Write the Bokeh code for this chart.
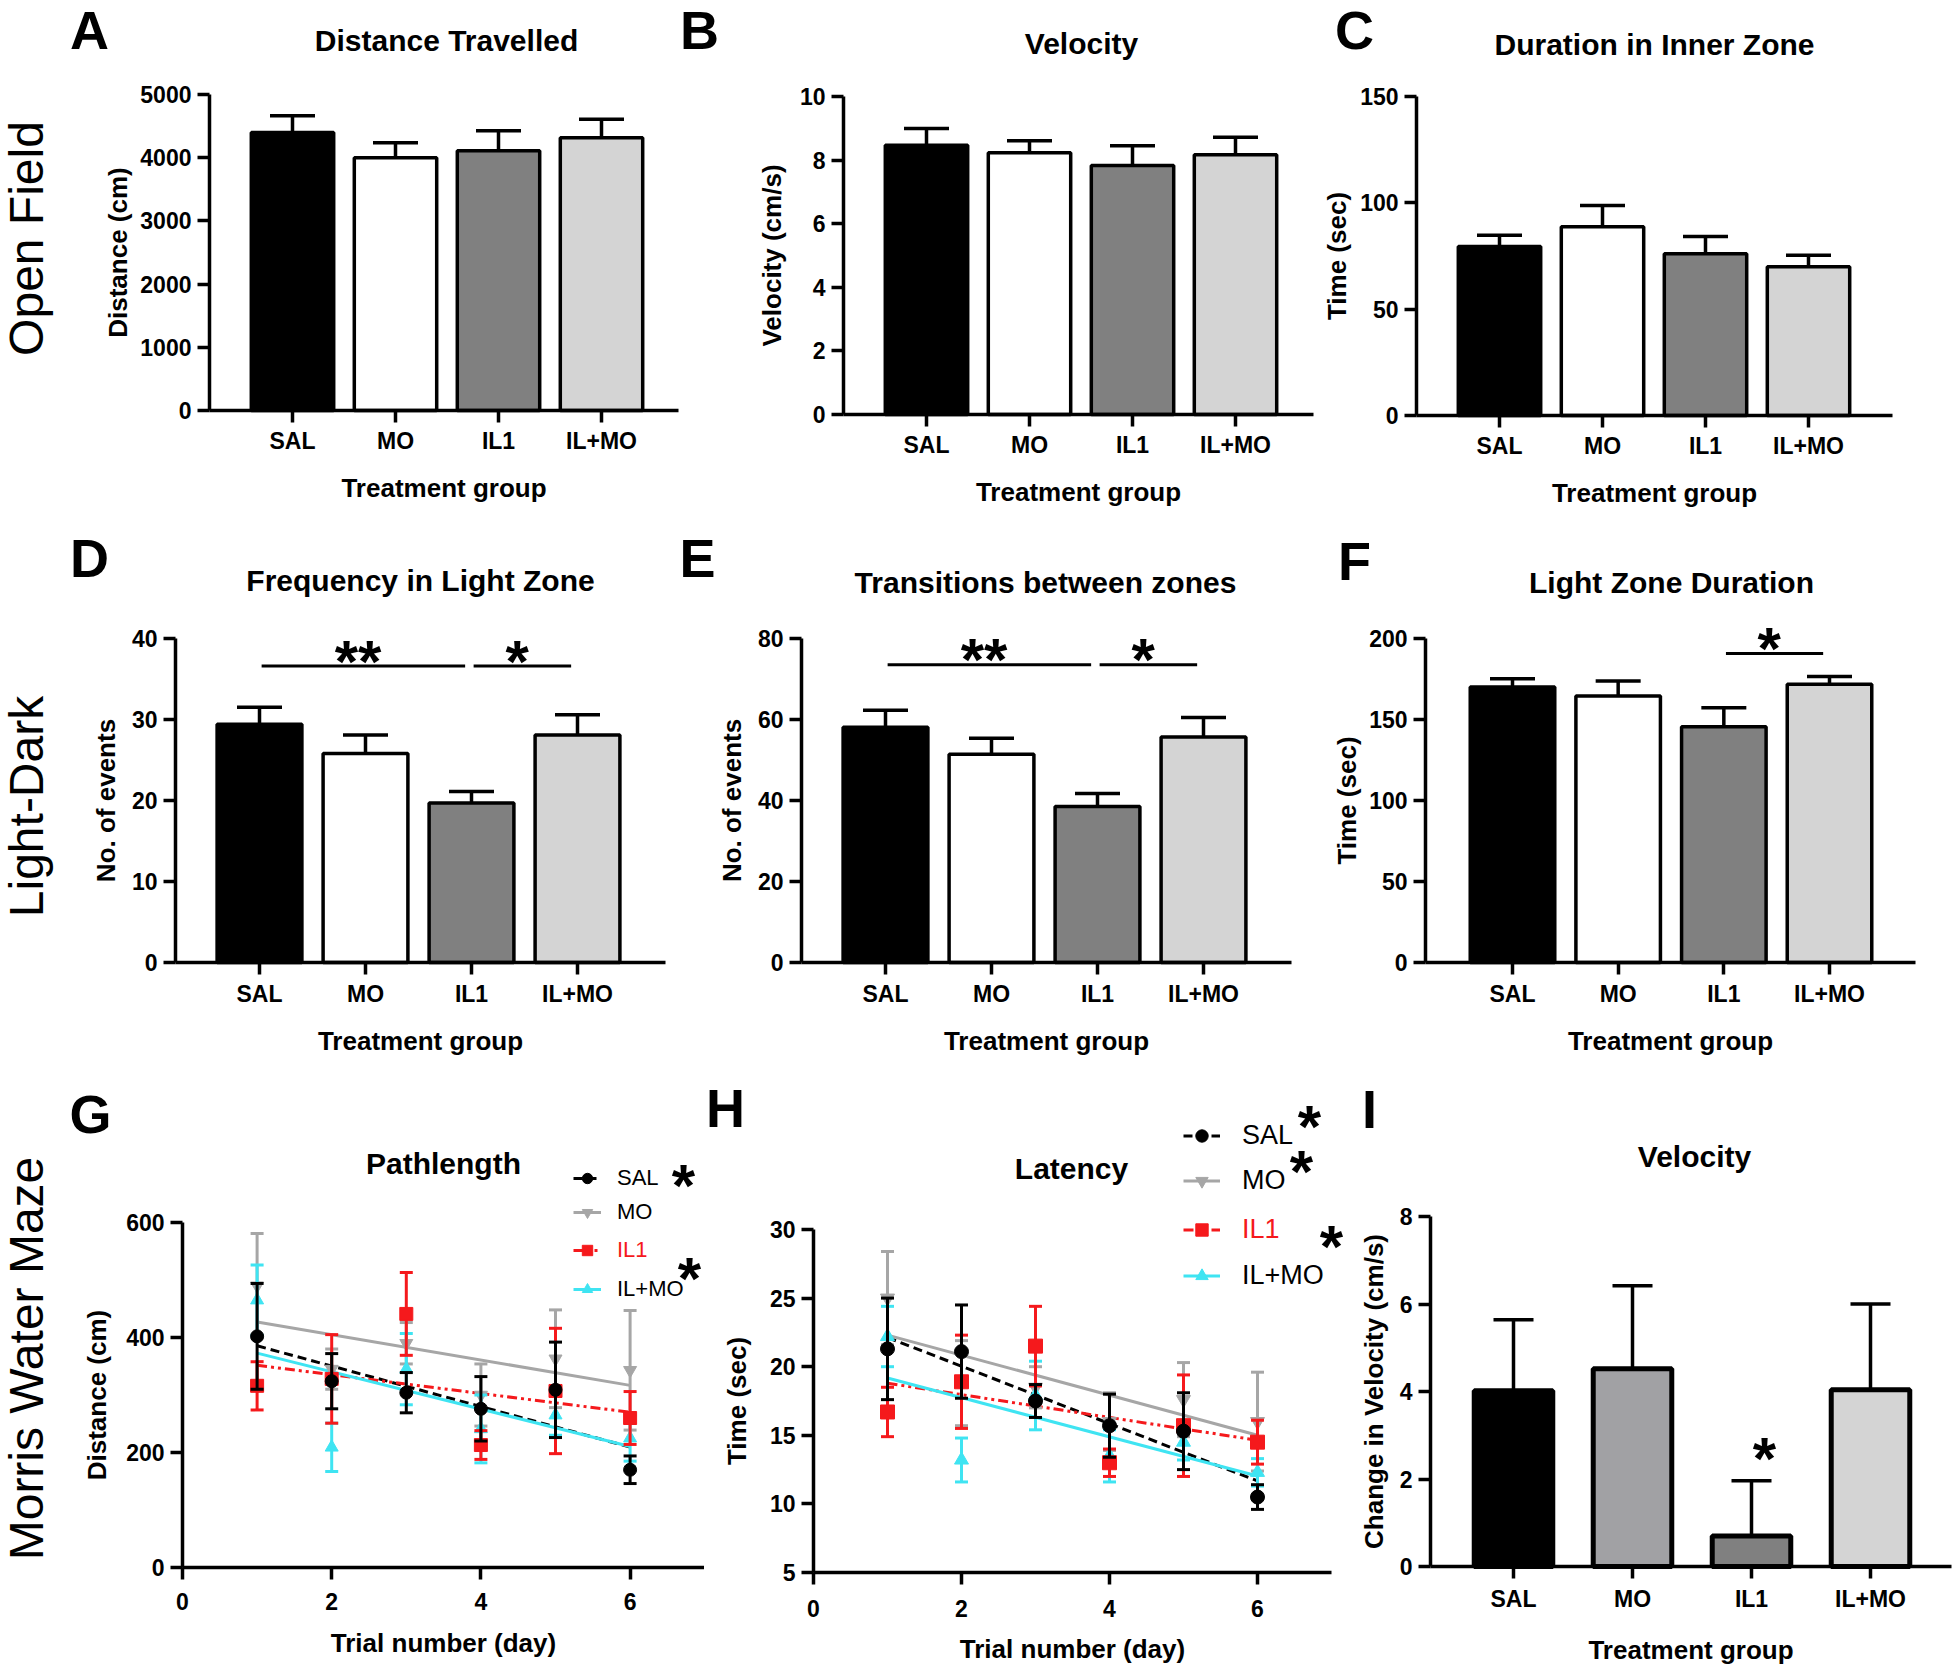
import numpy as np
from bokeh.plotting import figure
from bokeh.models import (ColumnDataSource, FixedTicker, Label, Legend, LegendItem, Range1d,
                          LinearAxis)
from bokeh.layouts import row, column
from bokeh.embed import file_html
from bokeh.resources import INLINE
from bokeh.core.properties import value

FONT = "Liberation Sans"

# ---------------- data ----------------
groups = ["SAL", "MO", "IL1", "IL+MO"]
bar_colors = ["#000000", "#ffffff", "#808080", "#d4d4d4"]
vchange_colors = ["#000000", "#a1a1a4", "#808080", "#d4d4d4"]

distance_mean = [4400, 4000, 4110, 4315]
distance_sem = [265, 235, 315, 295]
velocity_mean = [8.47, 8.23, 7.83, 8.17]
velocity_sem = [0.52, 0.38, 0.62, 0.55]
inner_mean = [79.5, 88.8, 76.0, 70.0]
inner_sem = [5.3, 10.0, 8.2, 5.3]
freq_mean = [29.4, 25.8, 19.7, 28.1]
freq_sem = [2.1, 2.3, 1.4, 2.5]
trans_mean = [58.1, 51.4, 38.5, 55.7]
trans_sem = [4.2, 4.0, 3.2, 4.8]
light_mean = [170.0, 164.5, 145.5, 171.8]
light_sem = [5.2, 9.2, 11.8, 4.8]
vchange_mean = [4.02, 4.52, 0.70, 4.04]
vchange_sem = [1.62, 1.90, 1.26, 1.96]

freq_brackets = [(0, 2, "**"), (2, 3, "*")]
freq_bracket_y = 36.6
trans_brackets = [(0, 2, "**"), (2, 3, "*")]
trans_bracket_y = 73.5
light_brackets = [(2, 3, "*")]
light_bracket_y = 190.8
vchange_sig = ["", "", "*", ""]

days = [1, 2, 3, 4, 5, 6]
path_sal = [402, 324, 304, 276, 309, 170]
path_sal_sem = [92, 48, 35, 56, 83, 24]
path_mo = [490, 345, 390, 300, 363, 343]
path_mo_sem = [91, 35, 36, 54, 85, 104]
path_il1 = [316, 328, 441, 213, 307, 260]
path_il1_sem = [42, 77, 72, 25, 109, 46]
path_ilmo = [465, 209, 345, 241, 265, 225]
path_ilmo_sem = [61, 42, 62, 59, 35, 40]

lat_sal = [21.3, 21.1, 17.5, 15.7, 15.3, 10.5]
lat_sal_sem = [3.7, 3.4, 1.2, 2.3, 2.8, 0.9]
lat_mo = [25.0, 18.8, 18.5, 16.0, 17.6, 16.0]
lat_mo_sem = [3.4, 3.1, 1.5, 2.1, 2.7, 3.6]
lat_il1 = [16.7, 18.9, 21.5, 13.0, 15.7, 14.5]
lat_il1_sem = [1.8, 3.4, 2.9, 1.0, 3.7, 1.6]
lat_ilmo = [22.2, 13.2, 17.9, 13.5, 14.5, 12.3]
lat_ilmo_sem = [2.2, 1.6, 2.5, 1.9, 1.3, 1.0]

# ---------------- layout (page pixel coords) ----------------
FIG = dict(
    A=(0, 0, 679, 518), B=(679, 0, 635, 518), C=(1314, 0, 644, 518),
    D=(0, 518, 672, 557), E=(672, 518, 650, 557), F=(1322, 518, 636, 557),
    G=(0, 1075, 704, 589), H=(704, 1075, 641, 589), I=(1345, 1075, 613, 589),
)
STAR_SIZE = 60
STAR_DROP = 8   # anchor lies this many px below the visual centre of "*"
TEXT_DROP = -2  # anchor offset for capital-letter texts relative to their visual centre


class Panel:
    def __init__(self, key, xa, ya):
        self.key = key
        fx, fy, w, h = FIG[key]
        self.fx, self.fy, self.w, self.h = fx, fy, w, h
        (v0, p0), (v1, p1) = xa
        self.sx = (v1 - v0) / (p1 - p0)
        self.v0, self.p0 = v0, p0
        (u0, q0), (u1, q1) = ya
        self.sy = (u1 - u0) / (q1 - q0)
        self.u0, self.q0 = u0, q0
        xr = (self.xd(fx), self.xd(fx + w))
        yr = (self.yd(fy + h), self.yd(fy))
        p = figure(width=w, height=h, x_range=Range1d(*xr), y_range=Range1d(*yr),
                   x_axis_location=None, y_axis_location=None,
                   output_backend="svg", toolbar_location=None, tools="")
        p.min_border_left = p.min_border_right = p.min_border_top = p.min_border_bottom = 0
        p.outline_line_color = None
        p.background_fill_color = "white"
        p.border_fill_color = "white"
        p.grid.visible = False
        self.p = p

    def xd(self, X):
        return self.v0 + (X - self.p0) * self.sx

    def yd(self, Y):
        return self.u0 + (Y - self.q0) * self.sy

    def label(self, text, X, Y, size, bold=True, angle=0.0, color="black"):
        """X, Y: text anchor in page pixels."""
        self.p.add_layout(Label(x=X - self.fx, y=self.fy + self.h - Y, x_units="screen",
                                y_units="screen", text=text, text_font=FONT,
                                text_font_size=f"{size}px",
                                text_font_style="bold" if bold else "normal",
                                text_color=color, text_align="center",
                                text_baseline="alphabetic", angle=angle))

    def cap_label(self, text, cx, cy, size, bold=True, color="black"):
        self.label(text, cx, cy + TEXT_DROP, size, bold=bold, color=color)

    def star(self, cx, cy):
        self.label("*", cx, cy + STAR_DROP, STAR_SIZE)

    def axes(self, xloc, xb, xticks, xover, yloc, yb, yticks, xlabel, ylabel,
             x_std, x_lab_std, y_lab_std):
        yax = LinearAxis(fixed_location=xloc, bounds=yb, ticker=FixedTicker(ticks=yticks),
                         axis_label=ylabel)
        xax = LinearAxis(fixed_location=yloc, bounds=xb, ticker=FixedTicker(ticks=xticks),
                         axis_label=xlabel)
        if xover:
            xax.major_label_overrides = xover
        for ax in (xax, yax):
            ax.axis_line_width = 3.5
            ax.axis_line_color = "black"
            ax.major_tick_line_width = 3.5
            ax.major_tick_line_color = "black"
            ax.major_tick_out = 12
            ax.major_tick_in = 0
            ax.minor_tick_line_color = None
            ax.major_label_text_font = FONT
            ax.major_label_text_font_style = "bold"
            ax.major_label_text_font_size = "23px"
            ax.major_label_text_color = "black"
            ax.axis_label_text_font = FONT
            ax.axis_label_text_font_style = "bold"
            ax.axis_label_text_font_size = "26px"
            ax.axis_label_text_color = "black"
        xax.major_label_standoff = x_std
        xax.axis_label_standoff = x_lab_std
        yax.major_label_standoff = 6
        yax.axis_label_standoff = y_lab_std
        self.p.add_layout(yax, "left")
        self.p.add_layout(xax, "below")


xpos = [i + 1 for i in range(len(groups))]
xover = {i + 1: g for i, g in enumerate(groups)}


def bar_panel(key, xa, ya, L, R, ymax, yticks, means, sems, colors, ylabel, title, title_xy,
              letter_xy, x_std, x_lab_std, y_lab_std, bar_w=0.8, line_w=3.5, cap=45,
              brackets=None, bracket_y=None, sig=None):
    pn = Panel(key, xa, ya)
    p = pn.p
    upper = [m + s for m, s in zip(means, sems)]
    src = ColumnDataSource(dict(x=xpos, top=means, upper=upper, color=colors))
    p.segment(x0="x", y0="top", x1="x", y1="upper", source=src, line_color="black", line_width=3.5)
    p.scatter(x="x", y="upper", source=src, marker="dash", size=cap, line_color="black",
              line_width=3.5)
    p.vbar(x="x", top="top", width=bar_w, bottom=0, source=src, fill_color="color",
           line_color="black", line_width=line_w)
    if brackets:
        bx0 = [xpos[i] + 0.02 for i, j, t in brackets]
        bx1 = [xpos[j] - 0.06 for i, j, t in brackets]
        by = [bracket_y] * len(brackets)
        p.segment(x0=bx0, y0=by, x1=bx1, y1=by, line_color="black", line_width=3)
        p.text(x=[(a + b) / 2 - 0.05 for a, b in zip(bx0, bx1)], y=by,
               text=[t for i, j, t in brackets], text_font=value(FONT), text_font_style="bold",
               text_font_size=f"{STAR_SIZE}px", text_align="center", text_baseline="alphabetic",
               y_offset=STAR_DROP - 13, text_color="black")
    if sig:
        sx = [x for x, s in zip(xpos, sig) if s]
        sy = [u for u, s in zip(upper, sig) if s]
        p.text(x=sx, y=sy, text=[s for s in sig if s], text_font=value(FONT),
               text_font_style="bold", text_font_size=f"{STAR_SIZE}px", text_align="center",
               text_baseline="alphabetic", x_offset=13, y_offset=STAR_DROP - 30,
               text_color="black")
    pn.axes(pn.xd(L), (pn.xd(L), pn.xd(R)), xpos, xover, 0, (0, ymax), yticks,
            "Treatment group", ylabel, x_std, x_lab_std, y_lab_std)
    pn.cap_label(title, title_xy[0], title_xy[1], 30)
    pn.cap_label(key, letter_xy[0], letter_xy[1], 54)
    return pn


pA = bar_panel("A", ((1, 292), (4, 601)), ((0, 410), (5000, 94)), 209, 678, 5000,
               [0, 1000, 2000, 3000, 4000, 5000], distance_mean, distance_sem, bar_colors,
               "Distance (cm)", "Distance Travelled", (446, 42), (89, 31), 5, 16, 4)
pB = bar_panel("B", ((1, 926), (4, 1235)), ((0, 414), (10, 96)), 843, 1313, 10,
               [0, 2, 4, 6, 8, 10], velocity_mean, velocity_sem, bar_colors,
               "Velocity (cm/s)", "Velocity", (1081, 45), (699, 31), 5, 16, 10)
pC = bar_panel("C", ((1, 1499), (4, 1808)), ((0, 415), (150, 96)), 1416, 1892, 150,
               [0, 50, 100, 150], inner_mean, inner_sem, bar_colors,
               "Time (sec)", "Duration in Inner Zone", (1654, 46), (1354, 31), 5, 16, 5)
pD = bar_panel("D", ((1, 259), (4, 577)), ((0, 962), (40, 638)), 175, 665, 40,
               [0, 10, 20, 30, 40], freq_mean, freq_sem, bar_colors,
               "No. of events", "Frequency in Light Zone", (420, 582), (89, 559), 6, 16, 8,
               brackets=freq_brackets, bracket_y=freq_bracket_y)
pE = bar_panel("E", ((1, 885), (4, 1203)), ((0, 962), (80, 638)), 801, 1291, 80,
               [0, 20, 40, 60, 80], trans_mean, trans_sem, bar_colors,
               "No. of events", "Transitions between zones", (1045, 584), (697, 559), 6, 16, 8,
               brackets=trans_brackets, bracket_y=trans_bracket_y)
pF = bar_panel("F", ((1, 1512), (4, 1829)), ((0, 962), (200, 638)), 1425, 1915, 200,
               [0, 50, 100, 150, 200], light_mean, light_sem, bar_colors,
               "Time (sec)", "Light Zone Duration", (1671, 584), (1354, 562), 6, 16, 4,
               brackets=light_brackets, bracket_y=light_bracket_y)
pI = bar_panel("I", ((1, 1513), (4, 1870)), ((0, 1566), (8, 1216)), 1430, 1951, 8,
               [0, 2, 4, 6, 8], vchange_mean, vchange_sem, vchange_colors,
               "Change in Velocity (cm/s)", "Velocity", (1694, 1158), (1369, 1110), 7, 20, 8,
               bar_w=0.66, line_w=5, cap=40, sig=vchange_sig)

pA.label("Open Field", 26, 238, 48, bold=False, angle=np.pi / 2)
pD.label("Light-Dark", 26, 806, 48, bold=False, angle=np.pi / 2)

RED = "#f5191c"
CYAN = "#3fe4f2"
GRAY = "#a6a6a6"
s_order = [1, 3, 2, 0]  # draw MO, IL+MO, IL1, then SAL on top


def line_panel(key, xa, ya, xmax, ymin, ymax, yticks, series, ylabel, title, title_xy,
               letter_xy, x_std, x_lab_std, y_lab_std, leg_y, leg_x0, glyph_w, leg_font,
               star_xy, msize):
    pn = Panel(key, xa, ya)
    p = pn.p
    lines = []
    for s in series:
        k, b = np.polyfit(days, s["mean"], 1)
        xx = [days[0], days[-1]]
        lines.append(p.line(x=xx, y=[k * x + b for x in xx], line_color=s["color"],
                            line_width=3, line_dash=s["dash"]))
    scat = [None] * len(series)
    for idx in s_order:
        s = series[idx]
        lo = [m - e for m, e in zip(s["mean"], s["sem"])]
        hi = [m + e for m, e in zip(s["mean"], s["sem"])]
        src = ColumnDataSource(dict(x=days, m=s["mean"], lo=lo, hi=hi))
        p.segment(x0="x", y0="lo", x1="x", y1="hi", source=src, line_color=s["color"],
                  line_width=3)
        p.scatter(x="x", y="lo", source=src, marker="dash", size=13, line_color=s["color"],
                  line_width=3)
        p.scatter(x="x", y="hi", source=src, marker="dash", size=13, line_color=s["color"],
                  line_width=3)
        scat[idx] = p.scatter(x="x", y="m", source=src, marker=s["marker"], size=msize,
                              fill_color=s["color"], line_color=s["color"])
    pn.axes(0, (0, xmax), [0, 2, 4, 6], None, ymin, (ymin, ymax), yticks,
            "Trial number (day)", ylabel, x_std, x_lab_std, y_lab_std)
    lh = leg_font + 4
    for idx, s in enumerate(series):
        leg = Legend(items=[LegendItem(label=s["name"], renderers=[lines[idx], scat[idx]])],
                     location=(leg_x0 - pn.fx, pn.fy + pn.h - (leg_y[idx] + lh / 2)),
                     label_text_font=FONT, label_text_font_size=f"{leg_font}px",
                     label_text_color=s["tcolor"], glyph_width=glyph_w, glyph_height=lh,
                     label_height=lh, label_standoff=int(glyph_w * 0.6), padding=0, margin=0,
                     spacing=0, border_line_color=None, background_fill_alpha=0)
        p.add_layout(leg)
    for (cx, cy) in star_xy:
        pn.star(cx, cy)
    pn.cap_label(title, title_xy[0], title_xy[1], 30)
    pn.cap_label(key, letter_xy[0], letter_xy[1], 54)
    return pn


path_series = [
    dict(name="SAL", mean=path_sal, sem=path_sal_sem, color="black", marker="circle",
         dash="9 5", tcolor="black"),
    dict(name="MO", mean=path_mo, sem=path_mo_sem, color=GRAY, marker="inverted_triangle",
         dash="solid", tcolor="black"),
    dict(name="IL1", mean=path_il1, sem=path_il1_sem, color=RED, marker="square",
         dash="10 4 3 4 3 4", tcolor=RED),
    dict(name="IL+MO", mean=path_ilmo, sem=path_ilmo_sem, color=CYAN, marker="triangle",
         dash="solid", tcolor="black"),
]
lat_series = [
    dict(name="SAL", mean=lat_sal, sem=lat_sal_sem, color="black", marker="circle",
         dash="9 5", tcolor="black"),
    dict(name="MO", mean=lat_mo, sem=lat_mo_sem, color=GRAY, marker="inverted_triangle",
         dash="solid", tcolor="black"),
    dict(name="IL1", mean=lat_il1, sem=lat_il1_sem, color=RED, marker="square",
         dash="10 4 3 4 3 4", tcolor=RED),
    dict(name="IL+MO", mean=lat_ilmo, sem=lat_ilmo_sem, color=CYAN, marker="triangle",
         dash="solid", tcolor="black"),
]

pG = line_panel("G", ((0, 182), (6, 629.6)), ((0, 1567), (600, 1222)), 7, 0, 600,
                [0, 200, 400, 600], path_series, "Distance (cm)", "Pathlength", (443, 1165),
                (90, 1115), 13, 15, 11, [1178, 1212, 1250, 1289], 573, 28, 22,
                [(683, 1177), (689, 1270)], 13)
pH = line_panel("H", ((0, 813), (6, 1257)), ((5, 1572), (30, 1229)), 7, 5, 30,
                [5, 10, 15, 20, 25, 30], lat_series, "Time (sec)", "Latency", (1071, 1170),
                (725, 1109), 15, 14, 15, [1135, 1180, 1229, 1275], 1183, 37, 27,
                [(1309, 1118), (1301, 1163), (1331, 1238)], 14)
pG.label("Morris Water Maze", 26, 1358, 48, bold=False, angle=np.pi / 2)

layout = column(row(pA.p, pB.p, pC.p), row(pD.p, pE.p, pF.p), row(pG.p, pH.p, pI.p))

with open("out.html", "w") as f:
    f.write(file_html(layout, INLINE, "Behavioural tests"))
